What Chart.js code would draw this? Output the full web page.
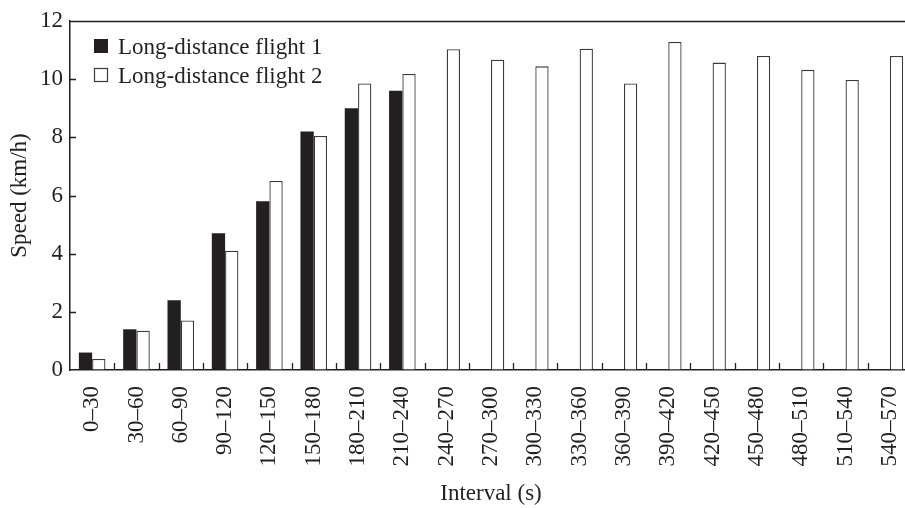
<!DOCTYPE html>
<html>
<head>
<meta charset="utf-8">
<script src="https://cdn.jsdelivr.net/npm/chart.js@4.4.1/dist/chart.umd.min.js"></script>
<style>
  html, body { margin: 0; padding: 0; background: #fff; overflow: hidden; }
  #wrap { width: 905px; height: 508px; overflow: hidden; position: relative; }
  canvas { display: block; }
</style>
</head>
<body>
<div id="wrap"><canvas id="chart" width="913" height="508"></canvas></div>
<script>
// Interval categories (seconds)
const intervals = ['0–30', '30–60', '60–90', '90–120', '120–150', '150–180', '180–210', '210–240',
  '240–270', '270–300', '300–330', '330–360', '360–390', '390–420', '420–450', '450–480',
  '480–510', '510–540', '540–570'];

// Mean speed per interval (km/h)
const flight1 = [0.6, 1.4, 2.4, 4.7, 5.8, 8.2, 9.0, 9.6,
  null, null, null, null, null, null, null, null, null, null, null];
const flight2 = [0.38, 1.35, 1.7, 4.1, 6.5, 8.05, 9.85, 10.18,
  11.03, 10.67, 10.44, 11.05, 9.85, 11.28, 10.57, 10.8, 10.32, 9.97, 10.8];

const seriesNames = ['Long-distance flight 1', 'Long-distance flight 2'];
const yTicks = [0, 2, 4, 6, 8, 10, 12];

const INK = '#231f20';
const FONT = '"Liberation Serif", "Times New Roman", serif';
const FONT_SIZE = 23;

Chart.defaults.font.family = FONT;
Chart.defaults.font.size = FONT_SIZE;
Chart.defaults.color = INK;

// Frame top line, inward tick marks on both axes
const axisMarks = {
  id: 'axisMarks',
  afterDatasetsDraw(chart) {
    const { ctx, chartArea: { left, right, top, bottom }, scales: { x, y } } = chart;
    ctx.save();
    ctx.strokeStyle = INK;
    ctx.lineWidth = 1.3;
    ctx.beginPath();
    ctx.moveTo(left, Math.round(top) + 0.5);
    ctx.lineTo(right, Math.round(top) + 0.5);
    y.ticks.forEach(t => {
      if (t.value > y.min && t.value < y.max) {
        const py = Math.round(y.getPixelForValue(t.value)) + 0.5;
        ctx.moveTo(left, py);
        ctx.lineTo(left + 6, py);
      }
    });
    for (let i = 1; i < x.ticks.length; i++) {
      const px = Math.round((x.getPixelForTick(i - 1) + x.getPixelForTick(i)) / 2) + 0.5;
      ctx.moveTo(px, bottom);
      ctx.lineTo(px, bottom - 7);
    }
    ctx.stroke();
    ctx.restore();
  }
};

// Legend drawn inside the plot, upper left
const insideLegend = {
  id: 'insideLegend',
  afterDraw(chart) {
    const { ctx, chartArea: { left, top } } = chart;
    ctx.save();
    ctx.font = FONT_SIZE + 'px ' + FONT;
    ctx.textBaseline = 'alphabetic';
    ctx.textAlign = 'left';
    chart.data.datasets.forEach((ds, i) => {
      const base = top + 33 + i * 29;
      const bx = left + 24, by = base - 15, s = 14;
      ctx.fillStyle = ds.backgroundColor;
      ctx.fillRect(bx, by, s, s);
      if (ds.borderWidth) {
        ctx.strokeStyle = ds.borderColor;
        ctx.lineWidth = 1.2;
        ctx.strokeRect(bx + 0.5, by + 0.5, s - 1, s - 1);
      }
      ctx.fillStyle = INK;
      ctx.fillText(ds.label, left + 48, base);
    });
    ctx.restore();
  }
};

new Chart(document.getElementById('chart'), {
  type: 'bar',
  data: {
    labels: intervals,
    datasets: [
      { label: seriesNames[0], data: flight1, backgroundColor: INK, borderWidth: 0 },
      { label: seriesNames[1], data: flight2, backgroundColor: '#ffffff', borderColor: '#3a3a3a', borderWidth: 1.3 }
    ]
  },
  options: {
    responsive: false,
    animation: false,
    devicePixelRatio: 1,
    layout: { padding: { top: 21, right: 1, bottom: 0, left: 0 } },
    datasets: { bar: { categoryPercentage: 0.6, barPercentage: 1.0 } },
    plugins: { legend: { display: false }, tooltip: { enabled: false } },
    scales: {
      x: {
        offset: true,
        grid: { display: true, drawOnChartArea: false, drawTicks: false },
        border: { display: true, color: INK, width: 1.5 },
        ticks: { autoSkip: false, maxRotation: 90, minRotation: 90, padding: 16, color: INK },
        title: { display: true, text: 'Interval (s)', color: INK, padding: { top: 0, bottom: 0 }, font: { size: FONT_SIZE, lineHeight: 1.2 } },
        afterFit(scale) {
          scale.height = 138;
          scale.paddingLeft = 0;
          scale.paddingRight = 0;
        }
      },
      y: {
        min: yTicks[0],
        max: yTicks[yTicks.length - 1],
        afterBuildTicks(scale) { scale.ticks = yTicks.map(v => ({ value: v })); },
        grid: { display: true, drawOnChartArea: false, drawTicks: false },
        border: { display: true, color: INK, width: 1.5 },
        ticks: { padding: 7, color: INK },
        title: { display: true, text: 'Speed (km/h)', color: INK, padding: { top: 6, bottom: 0 }, font: { size: FONT_SIZE, lineHeight: 1.2 } },
        afterFit(scale) { scale.width = 70; }
      }
    }
  },
  plugins: [axisMarks, insideLegend]
});
</script>
</body>
</html>
